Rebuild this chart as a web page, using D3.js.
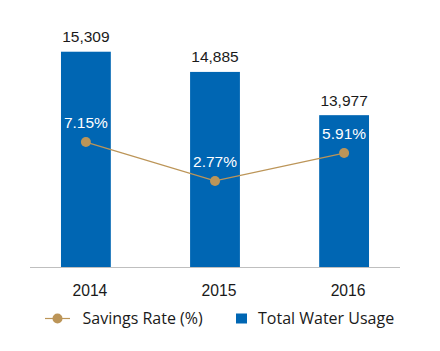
<!DOCTYPE html>
<html><head><meta charset="utf-8">
<script src="https://cdn.jsdelivr.net/npm/d3@7"></script>
<style>body{margin:0;background:#fff}svg{display:block}</style>
</head><body>
<svg id="c" width="440" height="351"></svg>
<script>
const years = ["2014", "2015", "2016"];
const waterUsage = [15309, 14885, 13977];
const savingsRate = [7.15, 2.77, 5.91];
const legendLabels = ["Savings Rate (%)", "Total Water Usage"];

const svg = d3.select("#c");
const barColor = "#0066b3", lineColor = "#bc9558";
const baseY = 267;

const x = d3.scaleBand().domain(years).range([30, 400]).paddingInner(0.614).paddingOuter(0.24);
const y = d3.scaleLinear().domain([10790, 15450]).range([baseY, 45]);
const y2 = d3.scaleLinear().domain([0, 10]).range([205.5, 116.8]);

// axis line
svg.append("line").attr("x1", 30).attr("x2", 400).attr("y1", baseY + 0.5).attr("y2", baseY + 0.5)
  .attr("stroke", "#bfbfbf").attr("stroke-width", 1);

// bars
svg.selectAll("rect.bar").data(waterUsage).join("rect").attr("class", "bar")
  .attr("x", (d, i) => x(years[i])).attr("width", x.bandwidth())
  .attr("y", d => y(d)).attr("height", d => baseY - y(d)).attr("fill", barColor);

// bar value labels
svg.selectAll("text.val").data(waterUsage).join("text").attr("class", "val")
  .attr("x", (d, i) => x(years[i]) + x.bandwidth() / 2).attr("y", d => y(d) - 9.5)
  .attr("text-anchor", "middle").attr("font-family", "Liberation Sans, Arial, sans-serif")
  .attr("font-size", 15.5).attr("fill", "#1a1a1a").text(d => d3.format(",")(d));

// x labels
const xa = svg.append("g").attr("transform", `translate(0,${baseY})`)
  .call(d3.axisBottom(x).tickSize(0).tickPadding(18));
xa.select(".domain").remove();
xa.selectAll("text").attr("font-family", "Liberation Sans, Arial, sans-serif").attr("font-size", 15.7)
  .attr("fill", "#1a1a1a").attr("dx", 4);

// line
const cx = (d, i) => x(years[i]) + x.bandwidth() / 2;
svg.append("path").datum(savingsRate)
  .attr("d", d3.line().x(cx).y(d => y2(d)))
  .attr("fill", "none").attr("stroke", lineColor).attr("stroke-width", 1.2);
svg.selectAll("circle.pt").data(savingsRate).join("circle").attr("class", "pt")
  .attr("cx", cx).attr("cy", d => y2(d)).attr("r", 5).attr("fill", lineColor);
svg.selectAll("text.pct").data(savingsRate).join("text").attr("class", "pct")
  .attr("x", cx).attr("y", d => y2(d) - 14)
  .attr("text-anchor", "middle").attr("font-family", "Liberation Sans, Arial, sans-serif")
  .attr("font-size", 15.5).attr("fill", "#fff").text(d => d.toFixed(2) + "%");

// legend
const lg = svg.append("g").attr("font-family", "Open Sans, Noto Sans, sans-serif").attr("font-size", 16).attr("fill", "#1a1a1a");
lg.append("line").attr("x1", 45).attr("x2", 70).attr("y1", 318.5).attr("y2", 318.5).attr("stroke", lineColor).attr("stroke-width", 1.2);
lg.append("circle").attr("cx", 57.5).attr("cy", 318.5).attr("r", 5).attr("fill", lineColor);
lg.append("text").attr("x", 82.5).attr("y", 324).text(legendLabels[0]);
lg.append("rect").attr("x", 236).attr("y", 313.5).attr("width", 11).attr("height", 10).attr("fill", barColor);
lg.append("text").attr("x", 258).attr("y", 324).text(legendLabels[1]);
</script>
</body></html>
